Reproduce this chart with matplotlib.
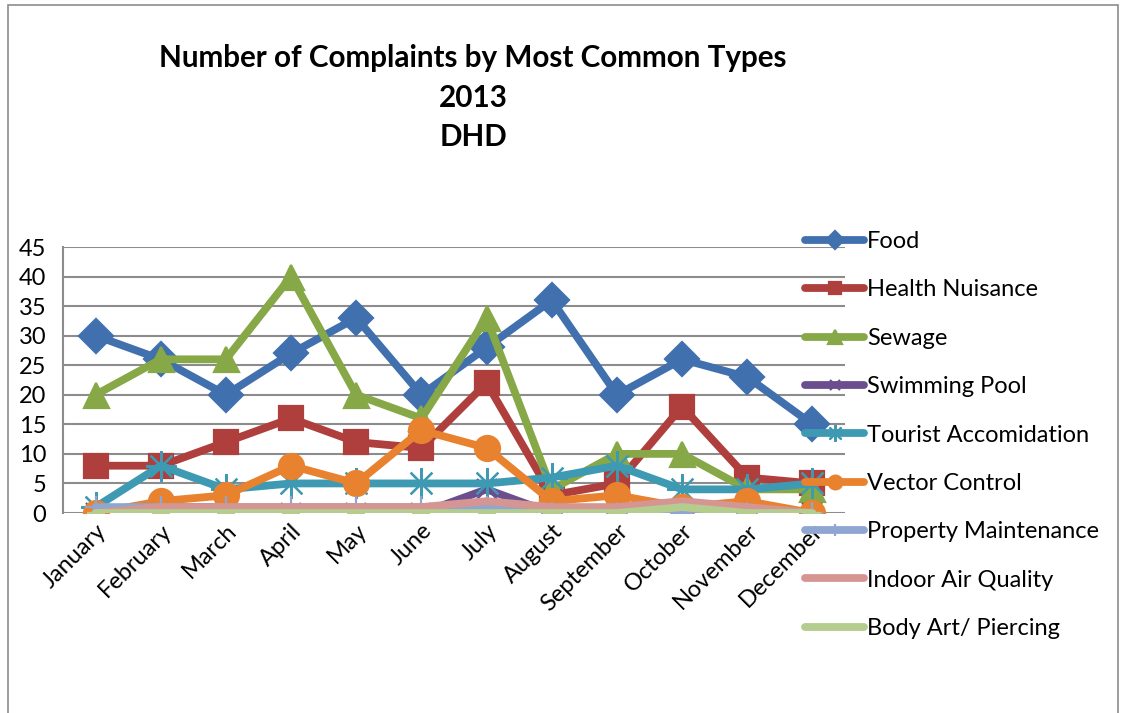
import numpy as np
import matplotlib
matplotlib.use("Agg")
import matplotlib.pyplot as plt
from matplotlib.patches import Rectangle

months = ["January", "February", "March", "April", "May", "June", "July",
          "August", "September", "October", "November", "December"]

food = [30, 26, 20, 27, 33, 20, 28, 36, 20, 26, 23, 15]
health_nuisance = [8, 8, 12, 16, 12, 11, 22, 3, 5, 18, 6, 5]
sewage = [20, 26, 26, 40, 20, 16, 33, 4, 10, 10, 4, 4]
swimming_pool = [0, 1, 1, 0, 0, 0, 4, 0, 0, 0, 0, 0]
tourist = [1, 8, 4, 5, 5, 5, 5, 6, 8, 4, 4, 5]
vector_control = [0, 2, 3, 8, 5, 14, 11, 2, 3, 1, 2, 0]
property_maint = [1, 1, 1, 1, 1, 1, 1, 0, 0, 0, 0, 0]
indoor_air = [0, 1, 1, 1, 1, 1, 2, 1, 1, 2, 1, 0]
body_art = [0, 0, 0, 0, 0, 0, 0, 0, 0, 1, 0, 0]

series = [
    ("Food", food, "#4170AE", "D", 17),
    ("Health Nuisance", health_nuisance, "#AE3F3C", "s", 17),
    ("Sewage", sewage, "#86A846", "^", 18),
    ("Swimming Pool", swimming_pool, "#6A4E8E", "x", 14),
    ("Tourist Accomidation", tourist, "#3D9AB2", (8, 2, 0), 22),
    ("Vector Control", vector_control, "#E8822E", "o", 18),
    ("Property Maintenance", property_maint, "#8EA6D1", "+", 16),
    ("Indoor Air Quality", indoor_air, "#D59593", "_", 13),
    ("Body Art/ Piercing", body_art, "#B4CC8E", "_", 13),
]

plt.rcParams["font.family"] = ["Lato", "DejaVu Sans"]

fig = plt.figure(figsize=(11.29, 7.13), dpi=100)
W, H = 1129, 713
ax = fig.add_axes([63 / W, 1 - 513 / H, (845 - 63) / W, (513 - 247) / H])

x = np.arange(len(months))
for name, vals, col, mk, ms in series:
    ax.plot(x, vals, color=col, lw=5.6, marker=mk, markersize=ms,
            markerfacecolor=col, markeredgecolor=col, markeredgewidth=1.6,
            solid_capstyle="round", solid_joinstyle="miter", label=name, zorder=3)

ax.set_xlim(-0.5, 11.5)
ax.set_ylim(0, 45)
ax.set_yticks(range(0, 46, 5))
ax.grid(axis="y", color="#8c8c8c", lw=1.5)
ax.set_axisbelow(True)
for s in ["top", "right", "bottom"]:
    ax.spines[s].set_visible(False)
ax.spines["left"].set_color("#8c8c8c")
ax.spines["left"].set_linewidth(1.5)
ax.tick_params(axis="y", length=0, pad=12, labelsize=17)
ax.tick_params(axis="x", length=0, pad=5, labelsize=17)
ax.set_xticks(x)
ax.set_xticklabels(months, rotation=45, ha="right", rotation_mode="anchor")

leg = fig.legend(loc="upper left", bbox_to_anchor=(805 / W, 1 - 231 / H),
                 frameon=False, fontsize=17, handlelength=2.5,
                 handletextpad=0.12, labelspacing=1.16, borderpad=0,
                 borderaxespad=0, markerscale=0.55)

title_lines = ["Number of Complaints by Most Common Types", "2013", "DHD"]
title_y = [58, 98, 137]
for txt, ty in zip(title_lines, title_y):
    fig.text(473 / W, 1 - ty / H, txt, ha="center", va="center",
             fontsize=21.3, fontweight="bold")

fig.patches.append(Rectangle((8 / W, -0.05), (1118 - 8) / W, 1.05 - 5 / H,
                             transform=fig.transFigure, fill=False,
                             edgecolor="#8c8c8c", lw=1.2))

fig.savefig("out.png", dpi=100)
